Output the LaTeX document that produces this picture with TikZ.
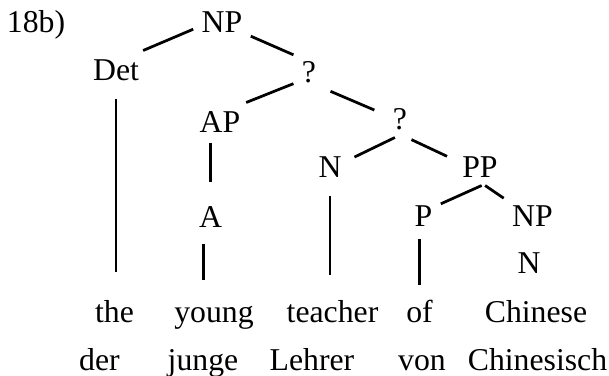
\documentclass[tikz,border=0pt]{standalone}
\usepackage{fontspec}
\setmainfont{Liberation Serif}
\usepackage{tikz}
\tikzstyle{cat} = [anchor=base, inner sep=3.2pt, text height=8.4pt, text depth=0pt, font=\fontsize{12.7}{15}\selectfont]
\tikzstyle{word} = [anchor=base, inner sep=3.2pt, text height=8.7pt, text depth=0pt, font=\fontsize{12.7}{15}\selectfont]
\tikzstyle{branch} = [line width=1.1pt]

\begin{document}
\begin{tikzpicture}[x=0.4pt, y=-0.4pt]
        \useasboundingbox (0,0) rectangle (609,375);
        \node (label) [cat] at (36,32) {18b)};
        \node (np) [cat] at (222,32) {NP};
        \node (det) [cat] at (116,80) {Det};
        \node (qa) [cat] at (309,82) {?};
        \node (ap) [cat] at (220,132) {AP};
        \node (qb) [cat] at (400,129) {?};
        \node (n) [cat] at (330,177) {N};
        \node (pp) [cat] at (480,177) {PP};
        \node (a) [cat] at (210.5,227) {A};
        \node (p) [cat] at (423.5,226) {P};
        \node (npb) [cat] at (532.5,226) {NP};
        \node (nb) [cat] at (529,273) {N};

        \node (the) [word] at (114.5,322) {the};
        \node (young) [word] at (214,322) {young};
        \node (teacher) [word] at (332.5,322) {teacher};
        \node (of) [word] at (419.5,322) {of};
        \node (chinese) [word] at (536,322) {Chinese};
        \node (der) [word] at (99.5,370) {der};
        \node (junge) [word] at (203,370) {junge};
        \node (lehrer) [word] at (312,370) {Lehrer};
        \node (von) [word] at (422,370) {von};
        \node (chinesisch) [word] at (537.5,370) {Chinesisch};

        \draw [branch] (np.195) -- (det.35);
        \draw [branch] (np.333) -- (qa.133);
        \draw [branch] (qa.218) -- (ap.36);
        \draw [branch, shorten <=2.6pt, shorten >=4.4pt] (qa.-48) -- (qb.165);
        \draw [branch, shorten >=2pt] (qb.255) -- (n.20);
        \draw [branch, shorten <=2pt, shorten >=3pt] (qb.-70) -- (pp.165);
        \draw [branch] (pp.-85) -- (p.34);
        \draw [branch] (pp.-75) -- (npb.149);

        \draw [branch, shorten <=4pt, shorten >=8pt] (det.south) -- (det.south |- the.north);
        \draw [branch, shorten <=0.8pt, shorten >=6.4pt] (ap.south -| a.north) -- (a.north);
        \draw [branch, shorten <=3.2pt, shorten >=4.8pt] (a.-110) -- (a.-110 |- young.north);
        \draw [branch, shorten <=4pt, shorten >=6.8pt] (n.south) -- (n.south |- teacher.north);
        \draw [branch, shorten <=1.6pt, shorten >=2.8pt] (p.south -| of.north) -- (of.north);
    \end{tikzpicture}
\end{document}
